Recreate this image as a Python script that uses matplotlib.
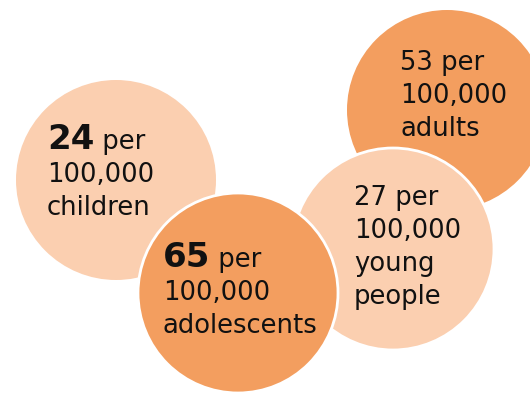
import matplotlib
matplotlib.use('Agg')
import matplotlib.pyplot as plt
from matplotlib.patches import Circle

# Rates per 100,000 by age group
groups = ['children', 'adults', 'young\npeople', 'adolescents']
values = [24, 53, 27, 65]
bold_value = [True, False, False, True]

# layout (pixels, y down)
centers = [(116, 180), (447, 110), (393, 249), (238, 293)]
radius = [100, 100, 101, 100]
colors = ['#FBCFB0', '#F39E5F', '#FBCFB0', '#F39E5F']
edges = ['none', 'none', 'white', 'white']
text_xy = [(47, 149), (400, 70), (354, 205), (163, 267)]

W, H = 530, 393
fig = plt.figure(figsize=(W / 100, H / 100), dpi=100)
ax = fig.add_axes([0, 0, 1, 1])
ax.set_xlim(0, W)
ax.set_ylim(H, 0)
ax.axis('off')

for (cx, cy), r, c, e in zip(centers, radius, colors, edges):
    ax.add_patch(Circle((cx, cy), r, facecolor=c, edgecolor=e, lw=2))

FS = 18.6
BFS = 24.5
LINE = 33
TXT = '#111111'

fig.canvas.draw()
renderer = fig.canvas.get_renderer()
for (tx, ty), g, v, b in zip(text_xy, groups, values, bold_value):
    if b:
        t = ax.text(tx, ty, str(v), fontsize=BFS, fontweight='bold',
                    color=TXT, va='baseline', ha='left')
        bb = t.get_window_extent(renderer)
        x_end = ax.transData.inverted().transform((bb.x1, bb.y0))[0]
        ax.text(x_end, ty, ' per', fontsize=FS, color=TXT,
                va='baseline', ha='left')
    else:
        ax.text(tx, ty, f'{v} per', fontsize=FS, color=TXT,
                va='baseline', ha='left')
    lines = ['100,000'] + g.split('\n')
    for i, ln in enumerate(lines):
        ax.text(tx, ty + LINE * (i + 1), ln, fontsize=FS, color=TXT,
                va='baseline', ha='left')

fig.savefig('out.png', dpi=100)
